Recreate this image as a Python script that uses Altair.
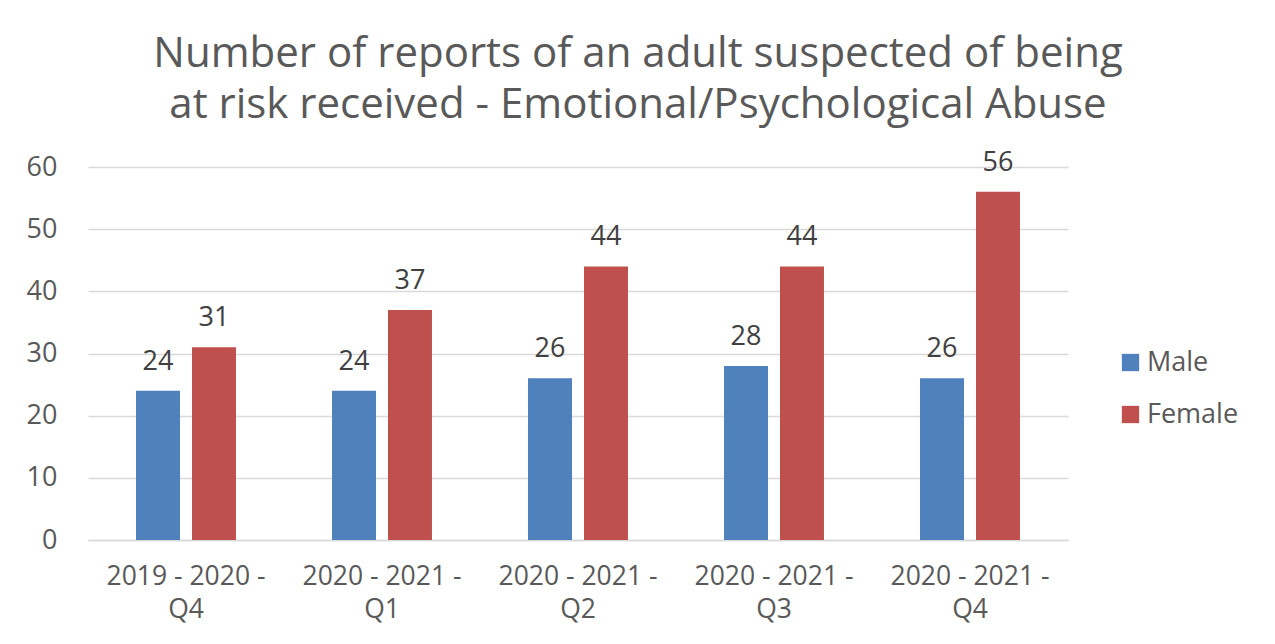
import altair as alt
import pandas as pd

periods = ["2019 - 2020 - Q4", "2020 - 2021 - Q1", "2020 - 2021 - Q2", "2020 - 2021 - Q3", "2020 - 2021 - Q4"]
male = [24, 24, 26, 28, 26]
female = [31, 37, 44, 44, 56]
series = ["Male", "Female"]
colors = ["#4F81BD", "#C0504D"]

rows = []
for p, m, f in zip(periods, male, female):
    rows.append({"period": p, "sex": "Male", "value": m})
    rows.append({"period": p, "sex": "Female", "value": f})
df = pd.DataFrame(rows)

label_expr = "indexof(datum.label, ' - Q') > 0 ? [substring(datum.label, 0, indexof(datum.label, ' - Q') + 2), substring(datum.label, indexof(datum.label, ' - Q') + 3)] : datum.label"

x = alt.X("period:N", sort=periods, title=None,
          scale=alt.Scale(paddingInner=0.49, paddingOuter=0.245),
          axis=alt.Axis(labelAngle=0, labelFontSize=26.5, labelColor="#595959",
                        labelFont="Open Sans", labelPadding=23, labelLineHeight=33,
                        ticks=False, domainColor="#d9d9d9", domainWidth=1.5,
                        labelExpr=label_expr))
xo = alt.XOffset("sex:N", sort=series, scale=alt.Scale(paddingInner=0.214, paddingOuter=0))
y = alt.Y("value:Q", title=None,
          scale=alt.Scale(domain=[0, 60]),
          axis=alt.Axis(values=[0, 10, 20, 30, 40, 50, 60], labelFontSize=27, labelColor="#595959",
                        labelFont="Open Sans", labelPadding=31, ticks=False, domain=False,
                        gridColor="#d9d9d9", gridWidth=1.5))

base = alt.Chart(df)

bars = base.mark_bar().encode(
    x=x, xOffset=xo, y=y,
    color=alt.Color("sex:N", sort=series, scale=alt.Scale(domain=series, range=colors),
                    legend=alt.Legend(title=None, orient="none", legendX=1029, legendY=182,
                                      symbolType="square", symbolSize=300, labelFontSize=27,
                                      labelFont="Open Sans", labelColor="#595959",
                                      rowPadding=24, symbolStrokeWidth=0, labelOffset=3)),
)

labels = base.mark_text(dy=-29, fontSize=27, font="Open Sans", color="#404040").encode(
    x=alt.X("period:N", sort=periods), xOffset=alt.XOffset("sex:N", sort=series),
    y=alt.Y("value:Q"), text=alt.Text("value:Q"),
)

chart = alt.layer(bars, labels).properties(
    width=980, height=373,
    background="white",
    title=alt.Title(["Number of reports of an adult suspected of being",
                     "at risk received - Emotional/Psychological Abuse"],
                    fontSize=42, font="Open Sans", fontWeight="normal", color="#595959",
                    anchor="middle", dx=60, lineHeight=51, offset=22),
    padding={"left": 80, "top": 159, "right": 190, "bottom": 90},
    autosize=alt.AutoSizeParams(type="none"),
).configure_view(stroke=None)

chart.save("out.html", embed_options={"renderer": "svg", "actions": False})
